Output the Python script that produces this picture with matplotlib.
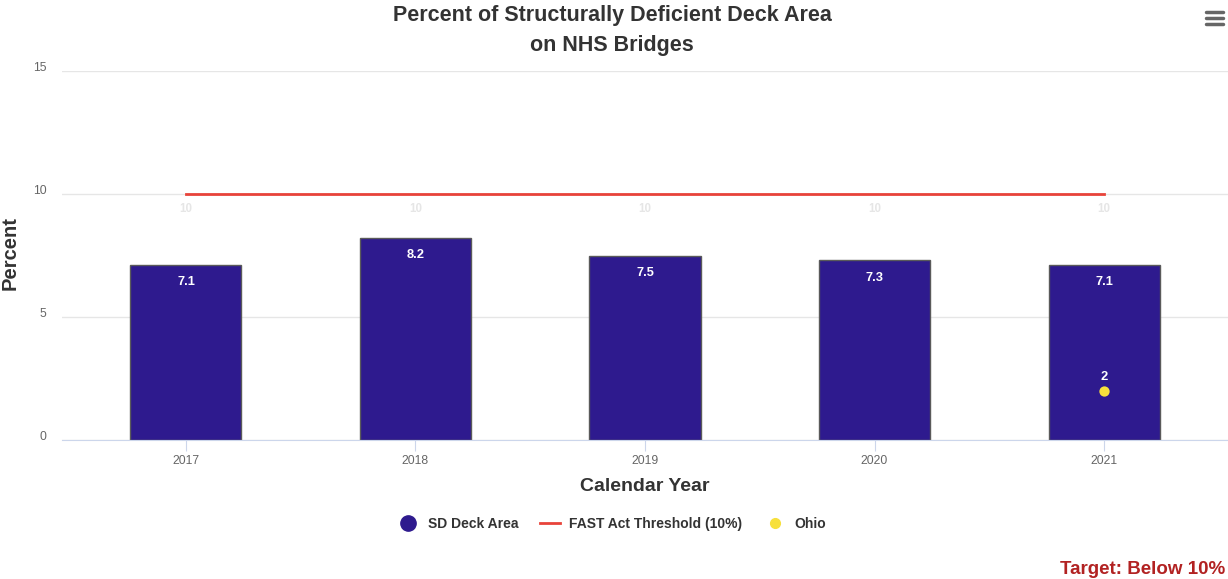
import numpy as np
import matplotlib.pyplot as plt
from matplotlib.lines import Line2D

plt.rcParams['font.family'] = ['Liberation Sans', 'DejaVu Sans']

# data
years = ['2017', '2018', '2019', '2020', '2021']
sd_deck_area = [7.1, 8.2, 7.5, 7.3, 7.1]
threshold = [10, 10, 10, 10, 10]
ohio_year = '2021'
ohio_value = 2

bar_color = '#2e1a8e'
line_color = '#e8433a'
ohio_color = '#f7e03c'

fig = plt.figure(figsize=(12.28, 5.79), dpi=100)
ax = fig.add_axes([62 / 1228, 1 - 440 / 579, 1 - 62 / 1228, (440 - 71) / 579])

x = np.arange(len(years))

# bars
ax.bar(x, sd_deck_area, width=0.484, color=bar_color,
       edgecolor='#5a5a5a', linewidth=1, zorder=2)
for xi, v in zip(x, sd_deck_area):
    ax.annotate(f'{v}', (xi, v), xytext=(0, -12.3), textcoords='offset points',
                ha='center', va='center', color='white', fontsize=9.3,
                fontweight='bold', zorder=5)

# threshold line
ax.plot(x, threshold, color=line_color, linewidth=2, zorder=3)
for xi, v in zip(x, threshold):
    ax.annotate(f'{v}', (xi, v), xytext=(0, -10.5), textcoords='offset points',
                ha='center', va='center', color='#e6e6e6', fontsize=8.3,
                fontweight='bold')

# Ohio point
ox = years.index(ohio_year)
ax.scatter([ox], [ohio_value], s=55, color=ohio_color, zorder=4, linewidths=0)
ax.annotate(f'{ohio_value}', (ox, ohio_value), xytext=(0, 10), textcoords='offset points',
            ha='center', va='center', color='white', fontsize=9.3,
            fontweight='bold', zorder=5)

# axes styling
ax.set_xlim(-0.54, 4.54)
ax.set_ylim(0, 15)
ax.set_yticks([0, 5, 10, 15])
ax.set_xticks(x)
ax.set_xticklabels(years)
ax.grid(axis='y', color='#e6e6e6', linewidth=1, zorder=0)
ax.set_axisbelow(True)
for s in ['top', 'right', 'left']:
    ax.spines[s].set_visible(False)
ax.spines['bottom'].set_color('#ccd6eb')
ax.tick_params(axis='y', length=0, labelsize=8.7, labelcolor='#666666', pad=11)
ax.tick_params(axis='x', length=8, color='#ccd6eb', labelsize=8.7,
               labelcolor='#666666', pad=3)
for lbl in ax.get_yticklabels():
    lbl.set_va('baseline')

ax.set_xlabel('Calendar Year', fontsize=14, fontweight='bold', color='#333333', labelpad=8)
fig.text(10 / 1228, 1 - 253 / 579, 'Percent', rotation=90, ha='center', va='center',
         fontsize=14.5, fontweight='bold', color='#333333')

# title
fig.text(612 / 1228, 1 - 16 / 579, 'Percent of Structurally Deficient Deck Area',
         ha='center', va='center', fontsize=15.5, fontweight='bold', color='#333333')
fig.text(612 / 1228, 1 - 45 / 579, 'on NHS Bridges',
         ha='center', va='center', fontsize=15.5, fontweight='bold', color='#333333')

# menu icon
for yy in [12, 18, 24]:
    fig.add_artist(Line2D([1206 / 1228, 1223 / 1228], [1 - yy / 579, 1 - yy / 579],
                          color='#666666', linewidth=2.5, solid_capstyle='round'))

# legend
handles = [
    Line2D([], [], marker='o', linestyle='none', markersize=11, color=bar_color),
    Line2D([], [], color=line_color, linewidth=2),
    Line2D([], [], marker='o', linestyle='none', markersize=7, color=ohio_color),
]
labels = ['SD Deck Area', 'FAST Act Threshold (10%)', 'Ohio']
leg = fig.legend(handles, labels, loc='center', bbox_to_anchor=(612 / 1228, 1 - 524 / 579),
                 ncol=3, frameon=False, handlelength=1.4, columnspacing=1.6,
                 handletextpad=0.7, prop={'size': 10, 'weight': 'bold'})
for t in leg.get_texts():
    t.set_color('#333333')

fig.text(1225 / 1228, 1 - 569 / 579, 'Target: Below 10%', ha='right', va='center',
         fontsize=13.5, fontweight='bold', color='#b22222')

fig.savefig('out.png', dpi=100)
